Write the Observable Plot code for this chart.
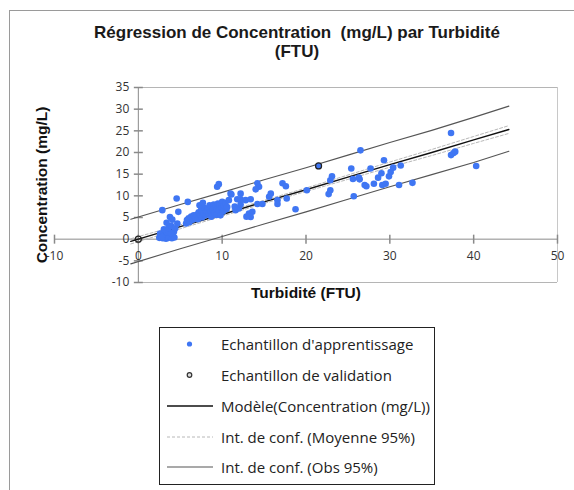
<!DOCTYPE html>
<html>
<head>
<meta charset="utf-8">
<script src="https://cdn.jsdelivr.net/npm/d3@7"></script>
<script src="https://cdn.jsdelivr.net/npm/@observablehq/plot@0.6"></script>
<style>
  body { margin: 0; background: #fff; }
  #wrap { position: relative; width: 574px; height: 490px; overflow: hidden; background: #fff; }
  #frame { position: absolute; left: 9px; top: 10px; width: 700px; height: 600px; border-left: 1px solid #9a9a9a; border-top: 1px solid #9a9a9a; }
  #title { position: absolute; left: 47px; top: 23px; width: 500px; text-align: center; font: bold 17px "Liberation Sans", Arial, sans-serif; line-height: 19px; color: #1a1a1a; white-space: pre; }
  #chart { position: absolute; left: 0; top: 80px; }
  #legend { position: absolute; left: 159px; top: 327px; width: 274px; height: 156px; border: 1.5px solid #222; font: 15px "Open Sans", sans-serif; color: #222; }
  .row { position: absolute; left: 0; height: 20px; width: 100%; }
  .row span { position: absolute; left: 61px; top: 0; line-height: 20px; white-space: nowrap; }
  .row svg { position: absolute; left: 0; top: 0; }
</style>
</head>
<body>
<div id="wrap">
  <div id="frame"></div>
  <div id="title"></div>
  <div id="chart"></div>
  <div id="legend"></div>
</div>
<script>
const titleLines = ["Régression de Concentration  (mg/L) par Turbidité", "(FTU)"];
const xTitle = "Turbidité (FTU)";
const yTitle = "Concentration (mg/L)";
const xDomain = [-10, 50];
const yDomain = [-10, 35];
const xTicks = [-10, 0, 10, 20, 30, 40, 50];
const yTicks = [-10, -5, 0, 5, 10, 15, 20, 25, 30, 35];

const trainX = [2.5,2.7,2.9,3.0,3.2,3.3,3.5,3.6,3.8,4.0,4.1,4.3,2.6,3.4,4.25,3.9,2.8,
  3.05,3.6,3.9,4.4,3.37,4.65,3.77,4.05,2.86,4.77,4.57,
  5.9,5.7,5.8,6.0,6.1,6.3,6.5,6.6,6.8,7.0,7.1,7.2,7.4,7.5,7.6,7.8,7.9,8.0,8.1,8.3,8.4,8.5,8.6,8.7,8.8,8.9,9.0,9.1,9.2,9.3,9.4,9.5,9.6,9.7,9.8,9.9,10.0,10.1,10.2,10.4,10.5,10.8,9.4,9.6,11.0,11.1,11.6,12.0,11.8,12.2,10.6,7.3,7.7,
  12.2,12.8,13.4,12.2,11.5,13.2,13.6,13.4,12.9,14.2,14.4,14.0,14.2,14.8,15.8,15.6,16.6,16.6,17.2,17.6,17.7,18.75,20.1,
  21.5,22.7,22.9,22.9,23.1,25.4,25.6,25.7,26.3,26.4,26.5,27.0,27.2,27.7,28.1,28.6,29.0,29.1,29.3,29.5,29.9,30.1,30.4,31.1,31.3,32.7,37.3,37.3,37.6,37.8,40.3];
const trainY = [0.3,0.8,0.2,1.1,0.5,0.1,0.9,0.3,0.6,0.2,1.0,0.4,1.3,1.6,1.7,1.4,0.5,
  2.3,2.6,3.1,2.5,3.8,3.6,5.1,4.5,6.7,6.3,9.4,
  8.6,3.6,4.4,4.8,3.9,5.2,4.5,5.5,4.9,5.7,4.6,6.2,5.3,6.8,5.0,6.0,7.2,5.5,6.5,7.0,5.9,7.8,6.3,5.2,7.4,6.8,8.0,6.1,7.6,5.6,7.0,8.2,6.6,7.9,5.5,7.2,8.6,6.4,7.7,8.4,6.9,9.0,12.1,12.7,10.5,10.3,6.7,7.1,9.2,10.5,7.4,7.8,8.4,
  9.2,9.0,9.2,8.0,7.5,5.9,6.3,5.1,5.2,12.9,12.1,11.5,8.1,8.1,10.5,9.8,9.0,8.1,12.9,12.2,9.4,6.9,11.3,
  16.9,10.4,11.3,13.6,14.5,16.3,13.9,9.9,14.2,13.8,20.5,12.5,12.2,16.3,12.8,14.2,15.2,12.5,18.2,12.8,14.5,15.5,16.5,12.5,17.0,13.0,24.5,19.4,19.9,20.2,16.9];
const valX = [0, 21.5];
const valY = [0, 16.9];

const bandX  = [-0.9, 5, 10, 15, 20, 25, 30, 35, 40, 44.2];
const model  = [-0.5, 2.9, 5.7, 8.6, 11.4, 14.3, 17.2, 20.0, 22.9, 25.3];
const meanLo = [-1.1, 2.4, 5.3, 8.25, 11.0, 13.8, 16.6, 19.3, 22.1, 24.4];
const meanHi = [0.1, 3.3, 6.1, 8.95, 11.8, 14.8, 17.8, 20.7, 23.7, 26.2];
const obsLo  = [-5.7, -2.2, 0.6, 3.5, 6.3, 9.2, 12.1, 14.9, 17.7, 20.3];
const obsHi  = [4.6, 8.0, 10.8, 13.7, 16.5, 19.4, 22.3, 25.1, 28.1, 30.7];

const legendLabels = ["Echantillon d'apprentissage", "Echantillon de validation", "Modèle(Concentration (mg/L))", "Int. de conf. (Moyenne 95%)", "Int. de conf. (Obs 95%)"];

const blue = "#3f76f3";
const train = trainX.map((x, i) => ({x, y: trainY[i]}));
const val = valX.map((x, i) => ({x, y: valY[i]}));
const band = bandX.map((x, i) => ({x, m: model[i], ml: meanLo[i], mh: meanHi[i], ol: obsLo[i], oh: obsHi[i]}));

document.getElementById("title").textContent = titleLines.join("\n");

const vTick = {draw(ctx) { ctx.moveTo(0, -4.5); ctx.lineTo(0, 4.5); }};
const hTick = {draw(ctx) { ctx.moveTo(-4.5, 0); ctx.lineTo(4.5, 0); }};
const titleFont = "'Liberation Sans', Arial, sans-serif";

const plot = Plot.plot({
  width: 574, height: 230,
  marginLeft: 54, marginRight: 17, marginTop: 7, marginBottom: 28,
  x: {domain: xDomain, axis: null},
  y: {domain: yDomain, axis: null},
  style: {fontFamily: "'Open Sans', sans-serif", fontSize: "12px", color: "#333", background: "transparent", overflow: "visible"},
  marks: [
    Plot.ruleY([yDomain[1], yDomain[0]], {x1: () => 0, x2: () => xDomain[1], stroke: "#b5b5b5"}),
    Plot.ruleX([xDomain[1]], {y1: () => yDomain[0], y2: () => yDomain[1], stroke: "#c8c8c8"}),
    Plot.ruleY([0], {stroke: "#8a8a8a"}),
    Plot.ruleX([0], {stroke: "#8a8a8a"}),
    Plot.dot(xTicks, {x: d => d, y: () => 0, symbol: vTick, r: 4, stroke: "#8a8a8a", fill: "none"}),
    Plot.dot(yTicks, {x: () => 0, y: d => d, symbol: hTick, r: 4, stroke: "#8a8a8a", fill: "none"}),
    Plot.text(xTicks, {x: d => d, y: () => 0, text: d => String(d), dy: 17, fill: "#333"}),
    Plot.text(yTicks, {x: () => 0, y: d => d, text: d => String(d), dx: -9, textAnchor: "end", fill: "#333"}),
    Plot.text([xTitle], {frameAnchor: "bottom", textAnchor: "middle", dy: 15, text: d => d, fontWeight: "bold", fontSize: 15.5, fill: "#111", fontFamily: titleFont}),
    Plot.text([yTitle], {frameAnchor: "left", textAnchor: "middle", dx: -12, rotate: -90, text: d => d, fontWeight: "bold", fontSize: 15.5, fill: "#111", fontFamily: titleFont}),
    Plot.line(band, {x: "x", y: "ml", stroke: "#b8b8b8", strokeDasharray: "3,2", strokeWidth: 1}),
    Plot.line(band, {x: "x", y: "mh", stroke: "#b8b8b8", strokeDasharray: "3,2", strokeWidth: 1}),
    Plot.line(band, {x: "x", y: "ol", stroke: "#555", strokeWidth: 1.1}),
    Plot.line(band, {x: "x", y: "oh", stroke: "#555", strokeWidth: 1.1}),
    Plot.line(band, {x: "x", y: "m", stroke: "#111", strokeWidth: 1.4}),
    Plot.dot(train, {x: "x", y: "y", r: 3.3, fill: blue}),
    Plot.dot(val, {x: "x", y: "y", r: 3, fill: "none", stroke: "#222", strokeWidth: 1.2})
  ]
});
document.getElementById("chart").appendChild(plot);

// legend
const legend = d3.select("#legend");
const rowY = [5.5, 36.5, 68, 99, 129];
legendLabels.forEach((label, i) => {
  const row = legend.append("div").attr("class", "row").style("top", rowY[i] + "px");
  const svg = row.append("svg").attr("width", 58).attr("height", 20);
  if (i === 0) svg.append("circle").attr("cx", 29.5).attr("cy", 10).attr("r", 2.6).attr("fill", blue);
  if (i === 1) svg.append("circle").attr("cx", 29.5).attr("cy", 10).attr("r", 2.3).attr("fill", "#ddd").attr("stroke", "#333").attr("stroke-width", 1.2);
  if (i === 2) svg.append("line").attr("x1", 7).attr("x2", 53).attr("y1", 10).attr("y2", 10).attr("stroke", "#111").attr("stroke-width", 1.4);
  if (i === 3) svg.append("line").attr("x1", 7).attr("x2", 53).attr("y1", 10).attr("y2", 10).attr("stroke", "#b8b8b8").attr("stroke-width", 1).attr("stroke-dasharray", "3,2");
  if (i === 4) svg.append("line").attr("x1", 7).attr("x2", 53).attr("y1", 10).attr("y2", 10).attr("stroke", "#555").attr("stroke-width", 1.1);
  row.append("span").text(label);
});
</script>
</body>
</html>
